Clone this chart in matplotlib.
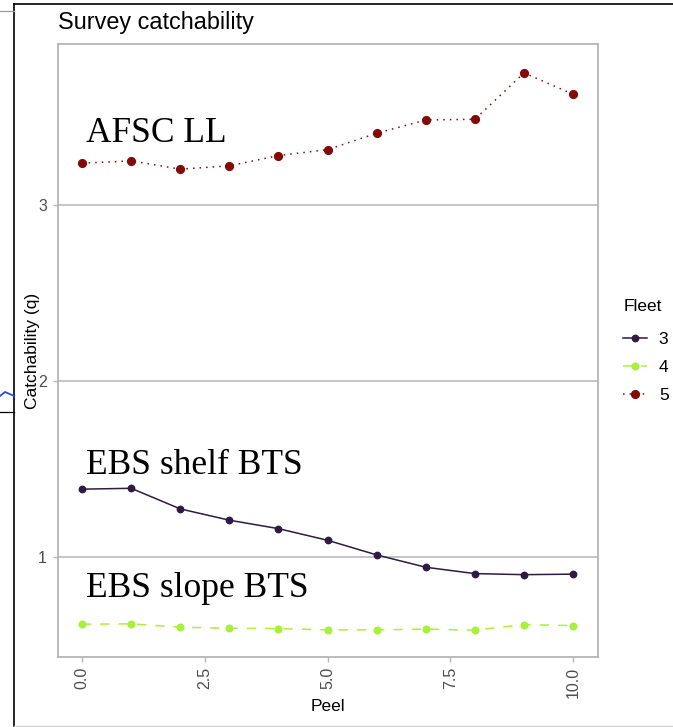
import matplotlib
matplotlib.use("Agg")
import matplotlib.pyplot as plt
from matplotlib.lines import Line2D

# Peel index and survey catchability estimates per fleet
peel = [0, 1, 2, 3, 4, 5, 6, 7, 8, 9, 10]
q_fleet3 = [1.386, 1.391, 1.274, 1.210, 1.162, 1.096, 1.013, 0.943, 0.907, 0.901, 0.904]
q_fleet4 = [0.620, 0.622, 0.603, 0.597, 0.595, 0.588, 0.588, 0.592, 0.586, 0.618, 0.612]
q_fleet5 = [3.235, 3.248, 3.201, 3.220, 3.278, 3.312, 3.405, 3.480, 3.484, 3.747, 3.626]

fleet_names = ["3", "4", "5"]
survey_labels = ["EBS shelf BTS", "EBS slope BTS", "AFSC LL"]
label_pos = [(0.09, 1.472), (0.09, 0.777), (0.075, 3.357)]
x_ticks = [0.0, 2.5, 5.0, 7.5, 10.0]
x_ticklabels = ["0.0", "2.5", "5.0", "7.5", "10.0"]
y_ticks = [1, 2, 3]

colors = ["#2F1A44", "#A8F03A", "#840A0A"]

W, H = 673, 727
fig = plt.figure(figsize=(W / 100, H / 100), dpi=100)
fig.patch.set_facecolor("white")

left, right, top, bottom = 57.5, 597.7, 44.0, 657.0
ax = fig.add_axes([left / W, 1 - bottom / H, (right - left) / W, (bottom - top) / H])
ax.set_facecolor("white")

sans = ["Liberation Sans", "DejaVu Sans"]
serif = ["Liberation Serif", "DejaVu Serif"]

lw = 1.1
styles = [
    dict(color=colors[0], lw=lw, ls="-", marker="o", ms=4.6),
    dict(color=colors[1], lw=lw, ls=(0, (6, 6)), marker="o", ms=4.8),
    dict(color=colors[2], lw=lw, ls=(0, (1, 3.3)), marker="o", ms=5.6),
]
for yvals, st in zip([q_fleet3, q_fleet4, q_fleet5], styles):
    ax.plot(peel, yvals, zorder=3, **st)

ax.set_xlim(-0.5, 10.5)
ax.set_ylim(0.434, 3.911)

ax.set_yticks(y_ticks)
ax.set_yticklabels([str(v) for v in y_ticks])
ax.set_xticks(x_ticks)
ax.set_xticklabels(x_ticklabels, rotation=90)

ax.yaxis.grid(True, color="#C4C4C4", lw=1.4, zorder=0)
ax.xaxis.grid(False)
ax.set_axisbelow(True)

for s in ax.spines.values():
    s.set_color("#B5B5B5")
    s.set_linewidth(1.3)

ax.tick_params(axis="both", colors="#B5B5B5", length=3.5, width=1.0,
               labelcolor="#4D4D4D", labelsize=11.5)
ax.tick_params(axis="y", pad=4)
for lab in ax.get_xticklabels() + ax.get_yticklabels():
    lab.set_family(sans)

ax.set_xlabel("Peel", fontsize=12.5, family=sans, color="black")
ax.set_ylabel("Catchability (q)", fontsize=12.5, family=sans, color="black")
ax.xaxis.set_label_coords(0.5, -(699 - bottom) / (bottom - top))
ax.yaxis.set_label_coords(-(57.5 - 39.5) / (right - left), 0.5)

fig.text(58 / W, 1 - 22 / H, "Survey catchability", fontsize=16.8, family=sans,
         ha="left", va="center", color="black")

for txt, (tx, ty) in zip(survey_labels, label_pos):
    ax.text(tx, ty, txt, fontsize=25.5, family=serif, color="black",
            ha="left", va="baseline")

handles = [Line2D([], [], **st) for st in styles]
leg = fig.legend(handles, fleet_names, title="Fleet", loc="upper left",
                 bbox_to_anchor=(618 / W, 1 - 294 / H), frameon=False,
                 handlelength=1.35, handletextpad=0.7, labelspacing=0.74,
                 borderaxespad=0.0, borderpad=0.3,
                 prop={"family": sans, "size": 12.5},
                 title_fontproperties={"family": sans, "size": 12.5})
leg._legend_box.align = "left"
leg._legend_box.sep = 13.0

# outer frame lines around the figure
frame = dict(transform=fig.transFigure, color="black", lw=1.2)
fig.add_artist(Line2D([14.3 / W, 14.3 / W], [0, 1 - 4.3 / H], **frame))
fig.add_artist(Line2D([14.3 / W, 1], [1 - 4.3 / H, 1 - 4.3 / H], **frame))
fig.add_artist(Line2D([0, 14.3 / W], [1 - 10.7 / H, 1 - 10.7 / H],
                      transform=fig.transFigure, color="#9A9A9A", lw=0.9))
fig.add_artist(Line2D([0, 14.3 / W], [1 - 412 / H, 1 - 412 / H],
                      transform=fig.transFigure, color="black", lw=0.9))
fig.add_artist(Line2D([0, 5 / W, 14.3 / W], [1 - 396 / H, 1 - 392 / H, 1 - 396 / H],
                      transform=fig.transFigure, color="#2B4BE0", lw=1.3))
fig.add_artist(Line2D([14.3 / W, 1], [1 - 725.5 / H, 1 - 725.5 / H],
                      transform=fig.transFigure, color="#D0D0D0", lw=1.0))

fig.savefig("out.png", dpi=100, facecolor="white")
